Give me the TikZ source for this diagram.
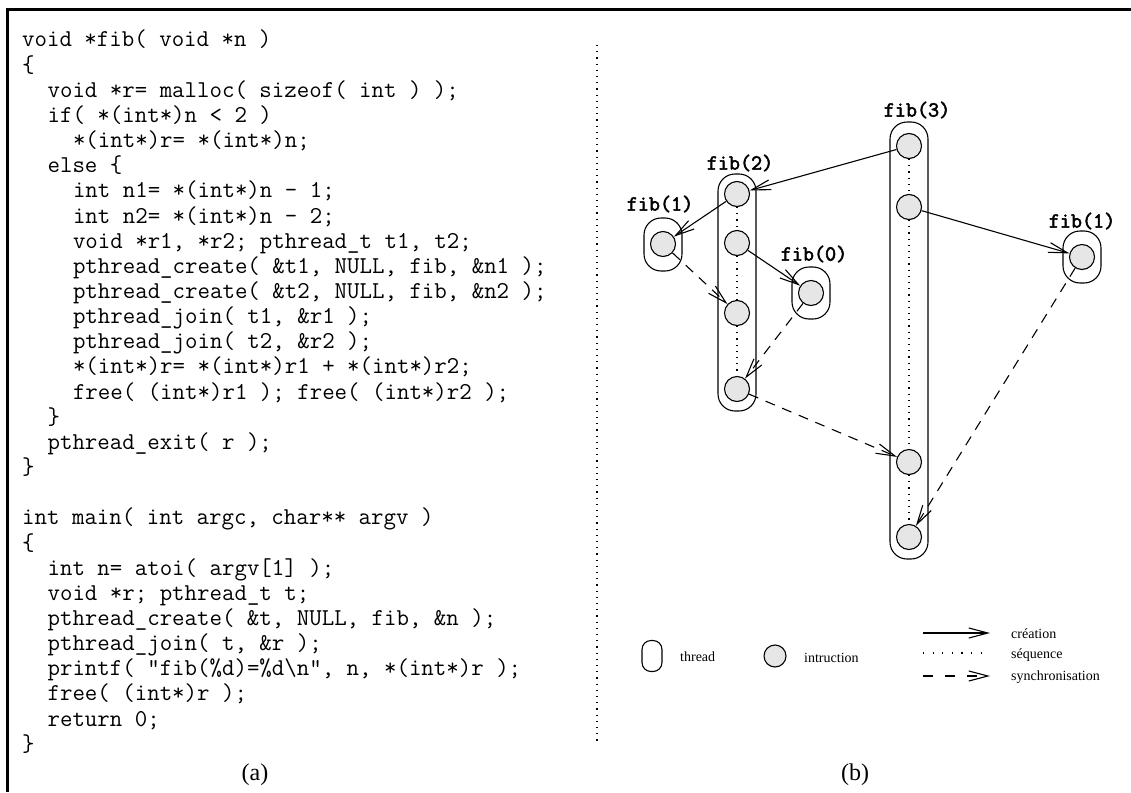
\documentclass[tikz,border=0pt]{standalone}
\usepackage{fontspec}
\setmainfont{Liberation Serif}
\newfontfamily\labfont{Latin Modern Mono}[FakeBold=2.5]
\usetikzlibrary{arrows.meta}
\definecolor{instrgray}{HTML}{E6E6E6}
\tikzset{
  code/.style={anchor=base west, inner sep=0pt, font=\ttfamily\fontsize{24.2}{25}\selectfont},
  instr/.style={circle, draw, fill=instrgray, minimum size=25pt, inner sep=0pt, line width=1.1pt},
  thread/.style={draw, rounded corners=17pt, minimum width=38pt, line width=1.1pt, inner sep=0pt},
  fiblabel/.style={font=\labfont\fontsize{21.5}{21.5}\selectfont, inner sep=0pt},
  create/.style={-{Straight Barb[length=19pt,width=10pt]}, line width=1.1pt},
  sync/.style={-{Straight Barb[length=19pt,width=10pt]}, line width=1.1pt, dash pattern=on 10pt off 8pt},
  seq/.style={line width=1.2pt, dash pattern=on 1.2pt off 5pt},
  legseq/.style={line width=1.2pt, dash pattern=on 1.2pt off 8.4pt},
  legsync/.style={sync, dash pattern=on 10pt off 12pt},
  sepline/.style={line width=1.2pt, dash pattern=on 1.2pt off 5pt},
  legtext/.style={anchor=west, inner sep=0pt, font=\fontsize{14}{14}\selectfont},
  caption/.style={inner sep=0pt, font=\fontsize{24}{24}\selectfont},
}
\begin{document}
\begin{tikzpicture}[x=1pt, y=-1pt]
\useasboundingbox (0,0) rectangle (1131,792);
% frame
\coordinate (fbl) at (7.5,792);
\coordinate (ftl) at (7.5,10);
\coordinate (ftr) at (1131,10);
\draw[line width=3pt] (fbl) -- (ftl) -- (ftr);

% code
\node[code] (l0) at (22,47) {void *fib( void *n )};
\node[code] (l1) at (22,72.15) {\{};
\node[code] (l2) at (47.4,97.3) {void *r= malloc( sizeof( int ) );};
\node[code] (l3) at (47.4,122.45) {if( *(int*)n < 2 )};
\node[code] (l4) at (72.8,147.6) {*(int*)r= *(int*)n;};
\node[code] (l5) at (47.4,172.75) {else \{};
\node[code] (l6) at (72.8,197.9) {int n1= *(int*)n - 1;};
\node[code] (l7) at (72.8,223.05) {int n2= *(int*)n - 2;};
\node[code] (l8) at (72.8,248.2) {void *r1, *r2; pthread\_t t1, t2;};
\node[code] (l9) at (72.8,273.35) {pthread\_create( \&t1, NULL, fib, \&n1 );};
\node[code] (l10) at (72.8,298.5) {pthread\_create( \&t2, NULL, fib, \&n2 );};
\node[code] (l11) at (72.8,323.65) {pthread\_join( t1, \&r1 );};
\node[code] (l12) at (72.8,348.8) {pthread\_join( t2, \&r2 );};
\node[code] (l13) at (72.8,373.95) {*(int*)r= *(int*)r1 + *(int*)r2;};
\node[code] (l14) at (72.8,399.1) {free( (int*)r1 ); free( (int*)r2 );};
\node[code] (l15) at (47.4,424.25) {\}};
\node[code] (l16) at (47.4,449.4) {pthread\_exit( r );};
\node[code] (l17) at (22,474.55) {\}};
\node[code] (l19) at (22,524.85) {int main( int argc, char** argv )};
\node[code] (l20) at (22,550) {\{};
\node[code] (l21) at (47.4,575.15) {int n= atoi( argv[1] );};
\node[code] (l22) at (47.4,600.3) {void *r; pthread\_t t;};
\node[code] (l23) at (47.4,625.45) {pthread\_create( \&t, NULL, fib, \&n );};
\node[code] (l24) at (47.4,650.6) {pthread\_join( t, \&r );};
\node[code] (l25) at (47.4,675.75) {printf( \char34 fib(\%d)=\%d\textbackslash n\char34, n, *(int*)r );};
\node[code] (l26) at (47.4,700.9) {free( (int*)r );};
\node[code] (l27) at (47.4,726.05) {return 0;};
\node[code] (l28) at (22,751.2) {\}};

\node[caption] (capa) at (255,775) {(a)};
\node[caption] (capb) at (855,775) {(b)};

% separator
\coordinate (septop) at (597,45);
\coordinate (sepbot) at (597,745);
\draw[sepline] (septop) -- (sepbot);

% threads
\node[thread, minimum height=437pt] (t3) at (909,340.5) {};
\node[thread, minimum height=237pt] (t2) at (737,292.5) {};
\node[thread, minimum height=53pt] (t1l) at (663,244.5) {};
\node[thread, minimum height=52pt] (t0) at (811,293) {};
\node[thread, minimum height=52pt] (t1r) at (1082,257) {};

\node[fiblabel] (lab3) at (917,110) {fib(3)};
\node[fiblabel] (lab2) at (740,163) {fib(2)};
\node[fiblabel] (lab1l) at (660,204) {fib(1)};
\node[fiblabel] (lab0) at (814,254) {fib(0)};
\node[fiblabel] (lab1r) at (1082,221) {fib(1)};

% instructions
\node[instr] (c31) at (909,146) {};
\node[instr] (c32) at (909,207) {};
\node[instr] (c33) at (909,462) {};
\node[instr] (c34) at (909,537) {};
\node[instr] (c21) at (737,194) {};
\node[instr] (c22) at (737,243) {};
\node[instr] (c23) at (737,313) {};
\node[instr] (c24) at (737,389) {};
\node[instr] (c1l) at (663,244) {};
\node[instr] (c0) at (811,293) {};
\node[instr] (c1r) at (1082,257) {};

% sequences
\draw[seq] (c31) -- (c32);
\draw[seq] (c32) -- (c33);
\draw[seq] (c33) -- (c34);
\draw[seq] (c21) -- (c22);
\draw[seq] (c22) -- (c23);
\draw[seq] (c23) -- (c24);

% creations
\draw[create] (c31) -- (c21);
\draw[create] (c21) -- (c1l);
\draw[create] (c22) -- (c0);
\draw[create] (c32) -- (c1r);

% synchronisations
\draw[sync] (c1l) -- (c23);
\draw[sync] (c0) -- (c24);
\draw[sync] (c24) -- (c33);
\draw[sync] (c1r) -- (c34);

% legend
\node[draw, line width=1.1pt, rounded corners=9pt, minimum width=20pt, minimum height=31pt, inner sep=0pt] (legthread) at (652,656) {};
\node[legtext] (legthreadtxt) at (680,657) {thread};
\node[instr, minimum size=22pt] (leginstr) at (775,656) {};
\node[legtext] (leginstrtxt) at (804,658) {intruction};

\coordinate (lca) at (923,633);
\coordinate (lcb) at (990,633);
\coordinate (lsa) at (923,653);
\coordinate (lsb) at (990,653);
\coordinate (lya) at (923,676);
\coordinate (lyb) at (990,676);
\draw[create] (lca) -- (lcb);
\draw[legseq] (lsa) -- (lsb);
\draw[legsync] (lya) -- (lyb);
\node[legtext] (legc) at (1011,634) {création};
\node[legtext] (legs) at (1011,655) {séquence};
\node[legtext] (legy) at (1011,677) {synchronisation};
\end{tikzpicture}
\end{document}
